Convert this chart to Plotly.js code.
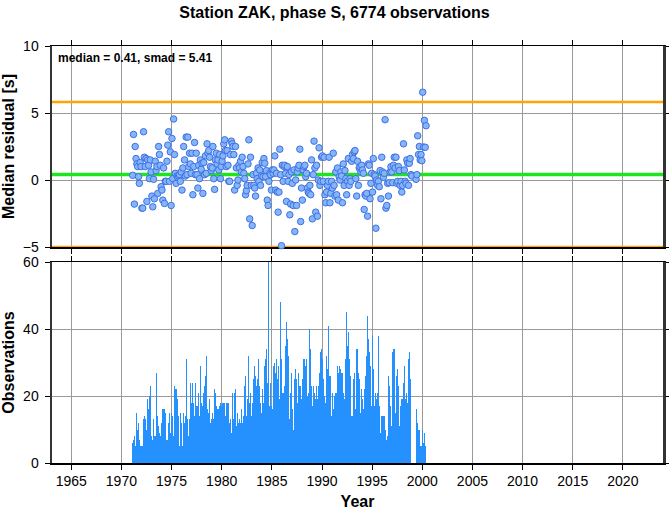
<!DOCTYPE html>
<html>
<head>
<meta charset="utf-8">
<script src="https://cdn.plot.ly/plotly-3.0.1.min.js"></script>
<style>html,body{margin:0;padding:0;background:#fff;}#chart{width:669px;height:511px;}</style>
</head>
<body>
<div id="chart"></div>
<script>
// ---- data ----
const years = [1971,1972,1973,1974,1975,1976,1977,1978,1979,1980,1981,1982,1983,1984,1985,
               1986,1987,1988,1989,1990,1991,1992,1993,1994,1995,1996,1997,1998,1999,2000];

// monthly median residual [s] (null = no value)
const monthlyResidual = [
  [null,0.35,3.4,-1.8,2.5,1.6,1.2,1.0,0.25,-0.25,1.3,1.0],
  [-2.1,-2.1,3.6,1.7,1.0,1.6,-1.6,1.5,1.1,0.1,1.5,0.6],
  [-1.2,-2.0,0.05,-1.4,1.4,0.7,1.0,-1.0,2.5,1.9,1.1,-0.5],
  [-0.75,-1.5,0.9,-1.75,-0.1,-0.1,1.4,2.6,3.6,-0.1,2.1,-1.9],
  [3.1,0.1,4.55,1.9,0.5,-0.25,0.3,0.2,0.3,0.4,-0.1,0.6],
  [-0.75,0.9,2.5,1.5,0.3,3.2,0.4,3.2,1.0,2.0,1.2,0.5],
  [2.0,-1.1,1.0,2.8,0.4,2.0,0.4,-0.6,1.1,0.1,1.5,0.8],
  [1.25,-1.0,1.3,0.4,1.8,0.5,2.7,2.0,2.2,1.7,1.0,0.7],
  [0.9,2.5,0.1,-0.7,1.5,2.0,1.2,1.5,0.75,1.9,0.1,1.0],
  [1.4,1.8,2.7,3.0,2.2,1.0,2.2,1.1,-0.1,-0.1,1.9,2.9],
  [2.7,2.5,1.9,-0.75,2.5,0.9,-0.4,0.0,1.1,0.9,1.4,0.6],
  [1.7,1.0,0.5,0.1,-1.1,-0.8,-0.4,1.2,3.0,-2.9,1.7,-0.4],
  [-3.4,0.4,-0.4,-0.6,-1.2,0.5,0.1,0.9,-0.1,0.75,-0.4,0.3],
  [1.3,0.25,1.6,1.25,0.25,0.7,-1.5,-1.9,-0.1,0.5,0.4,-0.75],
  [0.75,0.5,0.75,1.8,-0.75,0.5,-0.9,-2.4,-0.9,2.3,0.4,-4.9],
  [1.1,-0.1,1.0,1.1,0.5,-1.6,1.0,-0.1,0.4,-2.6,-1.8,0.6],
  [-0.25,-1.9,0.75,-3.85,0.0,-1.9,0.6,0.9,1.1,2.3,-3.1,-0.6],
  [-1.5,0.75,1.0,1.1,0.25,0.5,-0.6,-0.9,-1.0,-0.4,-1.1,1.5],
  [-2.9,0.4,2.9,0.9,-2.4,1.1,-2.7,0.0,2.4,-0.4,-0.1,1.7],
  [1.8,-0.1,1.7,-1.1,-1.7,-0.9,-0.4,-0.1,1.7,-1.7,-1.0,-0.1],
  [-0.6,2.0,-0.4,-1.2,0.6,-1.1,0.9,-1.5,0.25,0.0,0.6,0.3],
  [-1.7,1.2,-0.4,0.7,0.1,-1.1,-0.1,1.6,-0.4,0.1,-0.1,1.4],
  [1.9,1.6,2.1,2.2,0.1,-1.2,1.4,-0.4,0.9,1.0,0.6,1.1],
  [0.75,0.5,-2.2,-1.1,-1.2,-1.0,-2.7,1.2,1.1,-1.4,-0.25,0.5],
  [-0.9,1.6,0.4,0.3,-3.6,0.0,-0.4,-0.1,-0.5,0.7,-1.4,1.7],
  [0.6,0.2,0.5,4.5,-2.1,-1.9,-0.25,-1.2,-0.2,0.6,1.0,0.6],
  [-0.2,1.1,1.7,0.9,1.7,-0.25,-0.1,1.0,0.7,-0.4,-0.1,-0.9],
  [-0.4,2.7,0.75,-0.1,-0.25,1.5,1.25,-0.4,1.25,1.6,0.4,0.3],
  [null,null,null,null,0.05,0.4,3.3,1.9,2.5,1.5,1.9,1.44],
  [6.55,2.46,4.45,2.44,4.05]
];

// monthly number of observations
const monthlyCounts = [
  [0,6,7,8,5,24,15,10,12,7,5,5],
  [5,5,13,14,13,14,10,19,16,20,23,8],
  [8,7,13,8,8,27,21,14,11,9,8,12],
  [10,16,16,16,15,7,7,7,12,15,9,15],
  [5,14,8,23,22,22,17,19,14,5,15,12],
  [14,5,15,12,14,31,24,13,8,13,24,18],
  [18,24,18,14,24,17,18,17,21,14,29,18],
  [29,17,21,23,26,32,21,16,15,19,12,13],
  [15,12,13,22,21,17,16,18,16,17,18,17],
  [18,18,18,18,14,18,18,18,18,12,13,9],
  [21,22,13,21,22,11,15,28,12,13,12,16],
  [12,14,14,23,26,14,19,16,32,18,21,14],
  [18,27,25,29,26,23,25,33,31,23,18,15],
  [22,26,18,29,31,34,24,60,26,17,24,17],
  [16,29,28,30,27,31,25,29,30,19,48,31],
  [21,21,18,23,35,42,37,32,28,13,21,27],
  [16,10,28,25,28,25,18,27,22,23,23,19],
  [25,31,23,31,29,31,20,21,29,40,34,23],
  [17,23,23,21,19,23,19,23,29,27,33,34],
  [31,25,20,26,18,32,28,41,26,33,26,14],
  [21,16,20,16,21,21,29,27,29,11,28,27],
  [27,21,19,11,31,45,35,39,31,25,26,14],
  [14,25,27,16,16,34,34,27,25,21,15,22],
  [19,16,22,19,26,32,44,37,33,39,29,17],
  [38,28,17,36,21,19,21,38,17,9,14,14],
  [14,14,14,10,5,7,8,26,23,17,9,11],
  [33,34,34,15,11,26,28,23,11,17,21,19],
  [19,24,29,19,14,21,18,31,33,25,22,0],
  [0,0,0,0,9,16,12,10,10,5,9,5],
  [10,6,9,5,14]
];

const median = 0.41;
const smad = 5.41;
const totalObs = 6774;
const station = 'ZAK';
const phase = 'S';
const xRange = [1963.08, 2024.0];
const residRange = [-5, 10];
const countRange = [0, 60];
const yearTicks = [1965,1970,1975,1980,1985,1990,1995,2000,2005,2010,2015,2020];

// ---- build month positions from (year, month) categories ----
function flatten(table) {
  const xs = [], ys = [];
  table.forEach((row, i) => row.forEach((v, m) => {
    xs.push(years[i] + (m + 0.5) / 12);
    ys.push(v);
  }));
  return {xs, ys};
}
const res = flatten(monthlyResidual);
const cnt = flatten(monthlyCounts);

const FONT = '"Liberation Sans", Arial, Helvetica, sans-serif';

const traces = [
  { // median line
    x: xRange, y: [median, median], xaxis: 'x2', yaxis: 'y2', mode: 'lines',
    line: {color: '#1ee61e', width: 3.5}, hoverinfo: 'skip'
  },
  { // median + smad
    x: xRange, y: [median + smad, median + smad], xaxis: 'x2', yaxis: 'y2', mode: 'lines',
    line: {color: '#ffa500', width: 2.5}, hoverinfo: 'skip', cliponaxis: false
  },
  { // median - smad
    x: xRange, y: [median - smad, median - smad], xaxis: 'x2', yaxis: 'y2', mode: 'lines',
    line: {color: '#ffa500', width: 2.5}, hoverinfo: 'skip', cliponaxis: false
  },
  { // residuals
    x: res.xs, y: res.ys, xaxis: 'x2', yaxis: 'y2', mode: 'markers', type: 'scatter',
    marker: {size: 6.5, color: '#84b6f7', line: {color: '#3f6fe6', width: 1}},
    cliponaxis: false
  },
  { // observations
    x: cnt.xs, y: cnt.ys, xaxis: 'x', yaxis: 'y', type: 'bar', width: 1/12,
    marker: {color: '#2491ff', line: {width: 0}}
  }
];

const common = {
  showgrid: true, gridcolor: '#9a9a9a', gridwidth: 1,
  zeroline: false, showline: true, mirror: 'ticks',
  ticks: 'outside', ticklen: 5, tickwidth: 1, tickcolor: '#000',
  tickfont: {family: FONT, size: 14, color: '#000'},
  layer: 'below traces'
};

const layout = {
  width: 669, height: 511,
  margin: {l: 52, r: 6, t: 46, b: 48},
  paper_bgcolor: '#fff', plot_bgcolor: '#fff',
  showlegend: false,
  bargap: 0,
  font: {family: FONT, size: 14, color: '#000'},
  title: {
    text: '<b>Station ' + station + ', phase ' + phase + ', ' + totalObs + ' observations</b>',
    font: {family: FONT, size: 16, color: '#000'},
    x: 0.5, xanchor: 'center', xref: 'container',
    y: 1 - 12 / 511, yanchor: 'middle', yref: 'container'
  },
  xaxis: Object.assign({}, common, {
    domain: [0, 1], anchor: 'y', range: xRange,
    tickmode: 'array', tickvals: yearTicks, ticktext: yearTicks.map(String),
    linecolor: '#000', linewidth: 1.5, ticklabelstandoff: 0,
    title: {text: '<b>Year</b>', font: {family: FONT, size: 16}, standoff: 7}
  }),
  yaxis: Object.assign({}, common, {
    domain: [0, 201 / 417], anchor: 'x', range: countRange,
    tickmode: 'array', tickvals: [0, 20, 40, 60],
    linecolor: '#333', linewidth: 2.5, ticklabelstandoff: 3,
    title: {text: '<b>Observations</b>', font: {family: FONT, size: 16}, standoff: 10}
  }),
  xaxis2: Object.assign({}, common, {
    domain: [0, 1], anchor: 'y2', range: xRange,
    tickmode: 'array', tickvals: yearTicks, showticklabels: false,
    linecolor: '#000', linewidth: 1.5
  }),
  yaxis2: Object.assign({}, common, {
    domain: [216 / 417, 1], anchor: 'x2', range: residRange,
    tickmode: 'array', tickvals: [-5, 0, 5, 10],
    linecolor: '#333', linewidth: 2.5, ticklabelstandoff: 3,
    title: {text: '<b>Median residual [s]</b>', font: {family: FONT, size: 16}, standoff: 10}
  }),
  annotations: [{
    xref: 'x2 domain', yref: 'y2 domain', x: 0.006, y: 0.985,
    xanchor: 'left', yanchor: 'top', showarrow: false,
    text: '<b>median = ' + median.toFixed(2) + ', smad = ' + smad.toFixed(2) + '</b>',
    font: {family: FONT, size: 12, color: '#000'}
  }]
};

Plotly.newPlot('chart', traces, layout, {staticPlot: true, displayModeBar: false});
</script>
</body>
</html>
